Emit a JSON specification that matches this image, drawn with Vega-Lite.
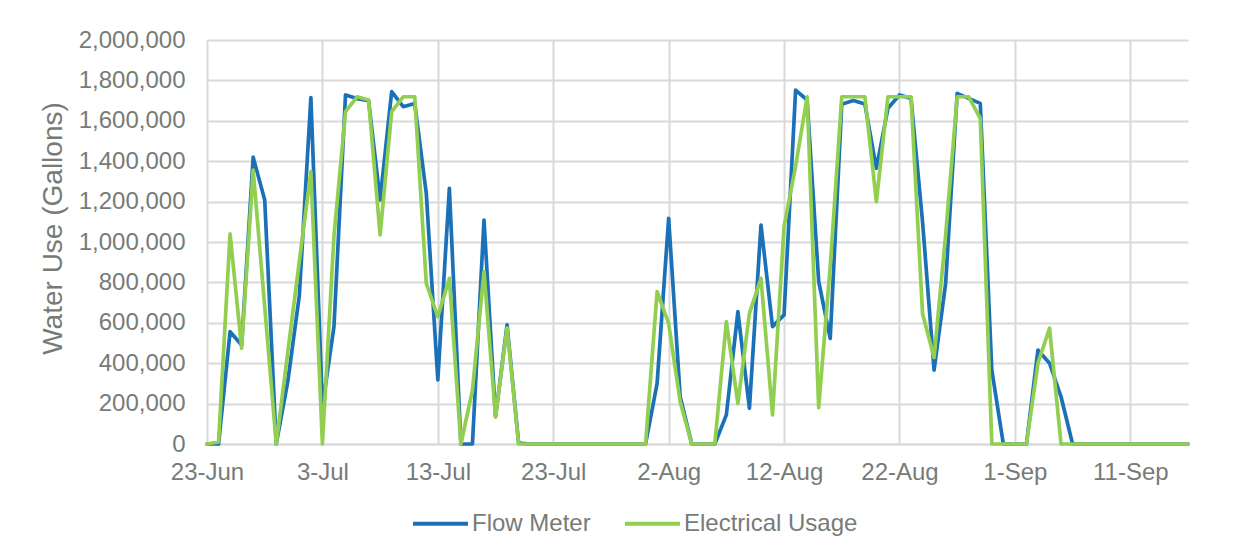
{
  "$schema": "https://vega.github.io/schema/vega-lite/v6.json",
  "width": 981,
  "height": 404,
  "autosize": {"type": "none"},
  "padding": {"left": 207, "top": 40, "right": 62, "bottom": 111},
  "background": "white",
  "data": {
    "values": [
      {"date": "2019-06-23", "Flow Meter": 0, "Electrical Usage": 0},
      {"date": "2019-06-24", "Flow Meter": 0, "Electrical Usage": 10000},
      {"date": "2019-06-25", "Flow Meter": 556000, "Electrical Usage": 1040000},
      {"date": "2019-06-26", "Flow Meter": 490000, "Electrical Usage": 474000},
      {"date": "2019-06-27", "Flow Meter": 1420000, "Electrical Usage": 1356000},
      {"date": "2019-06-28", "Flow Meter": 1208000, "Electrical Usage": 680000},
      {"date": "2019-06-29", "Flow Meter": 0, "Electrical Usage": 0},
      {"date": "2019-06-30", "Flow Meter": 310000, "Electrical Usage": 455000},
      {"date": "2019-07-01", "Flow Meter": 735000, "Electrical Usage": 905000},
      {"date": "2019-07-02", "Flow Meter": 1715000, "Electrical Usage": 1348000},
      {"date": "2019-07-03", "Flow Meter": 185000, "Electrical Usage": 0},
      {"date": "2019-07-04", "Flow Meter": 580000, "Electrical Usage": 1028000},
      {"date": "2019-07-05", "Flow Meter": 1728000, "Electrical Usage": 1645000},
      {"date": "2019-07-06", "Flow Meter": 1710000, "Electrical Usage": 1719000},
      {"date": "2019-07-07", "Flow Meter": 1700000, "Electrical Usage": 1703000},
      {"date": "2019-07-08", "Flow Meter": 1208000, "Electrical Usage": 1035000},
      {"date": "2019-07-09", "Flow Meter": 1744000, "Electrical Usage": 1645000},
      {"date": "2019-07-10", "Flow Meter": 1670000, "Electrical Usage": 1719000},
      {"date": "2019-07-11", "Flow Meter": 1686000, "Electrical Usage": 1719000},
      {"date": "2019-07-12", "Flow Meter": 1241000, "Electrical Usage": 795000},
      {"date": "2019-07-13", "Flow Meter": 317000, "Electrical Usage": 630000},
      {"date": "2019-07-14", "Flow Meter": 1266000, "Electrical Usage": 820000},
      {"date": "2019-07-15", "Flow Meter": 0, "Electrical Usage": 0},
      {"date": "2019-07-16", "Flow Meter": 0, "Electrical Usage": 267000},
      {"date": "2019-07-17", "Flow Meter": 1109000, "Electrical Usage": 853000},
      {"date": "2019-07-18", "Flow Meter": 135000, "Electrical Usage": 135000},
      {"date": "2019-07-19", "Flow Meter": 590000, "Electrical Usage": 575000},
      {"date": "2019-07-20", "Flow Meter": 5000, "Electrical Usage": 0},
      {"date": "2019-07-21", "Flow Meter": 0, "Electrical Usage": 0},
      {"date": "2019-07-22", "Flow Meter": 0, "Electrical Usage": 0},
      {"date": "2019-07-23", "Flow Meter": 0, "Electrical Usage": 0},
      {"date": "2019-07-24", "Flow Meter": 0, "Electrical Usage": 0},
      {"date": "2019-07-25", "Flow Meter": 0, "Electrical Usage": 0},
      {"date": "2019-07-26", "Flow Meter": 0, "Electrical Usage": 0},
      {"date": "2019-07-27", "Flow Meter": 0, "Electrical Usage": 0},
      {"date": "2019-07-28", "Flow Meter": 0, "Electrical Usage": 0},
      {"date": "2019-07-29", "Flow Meter": 0, "Electrical Usage": 0},
      {"date": "2019-07-30", "Flow Meter": 0, "Electrical Usage": 0},
      {"date": "2019-07-31", "Flow Meter": 0, "Electrical Usage": 0},
      {"date": "2019-08-01", "Flow Meter": 300000, "Electrical Usage": 754000},
      {"date": "2019-08-02", "Flow Meter": 1117000, "Electrical Usage": 597000},
      {"date": "2019-08-03", "Flow Meter": 234000, "Electrical Usage": 209000},
      {"date": "2019-08-04", "Flow Meter": 0, "Electrical Usage": 0},
      {"date": "2019-08-05", "Flow Meter": 0, "Electrical Usage": 0},
      {"date": "2019-08-06", "Flow Meter": 0, "Electrical Usage": 0},
      {"date": "2019-08-07", "Flow Meter": 144000, "Electrical Usage": 606000},
      {"date": "2019-08-08", "Flow Meter": 655000, "Electrical Usage": 201000},
      {"date": "2019-08-09", "Flow Meter": 177000, "Electrical Usage": 647000},
      {"date": "2019-08-10", "Flow Meter": 1084000, "Electrical Usage": 820000},
      {"date": "2019-08-11", "Flow Meter": 581000, "Electrical Usage": 144000},
      {"date": "2019-08-12", "Flow Meter": 639000, "Electrical Usage": 1076000},
      {"date": "2019-08-13", "Flow Meter": 1752000, "Electrical Usage": 1375000},
      {"date": "2019-08-14", "Flow Meter": 1703000, "Electrical Usage": 1719000},
      {"date": "2019-08-15", "Flow Meter": 805000, "Electrical Usage": 180000},
      {"date": "2019-08-16", "Flow Meter": 523000, "Electrical Usage": 880000},
      {"date": "2019-08-17", "Flow Meter": 1682000, "Electrical Usage": 1719000},
      {"date": "2019-08-18", "Flow Meter": 1700000, "Electrical Usage": 1719000},
      {"date": "2019-08-19", "Flow Meter": 1683000, "Electrical Usage": 1719000},
      {"date": "2019-08-20", "Flow Meter": 1365000, "Electrical Usage": 1200000},
      {"date": "2019-08-21", "Flow Meter": 1662000, "Electrical Usage": 1719000},
      {"date": "2019-08-22", "Flow Meter": 1728000, "Electrical Usage": 1719000},
      {"date": "2019-08-23", "Flow Meter": 1711000, "Electrical Usage": 1719000},
      {"date": "2019-08-24", "Flow Meter": 1100000, "Electrical Usage": 645000},
      {"date": "2019-08-25", "Flow Meter": 366000, "Electrical Usage": 428000},
      {"date": "2019-08-26", "Flow Meter": 795000, "Electrical Usage": 1035000},
      {"date": "2019-08-27", "Flow Meter": 1736000, "Electrical Usage": 1719000},
      {"date": "2019-08-28", "Flow Meter": 1711000, "Electrical Usage": 1719000},
      {"date": "2019-08-29", "Flow Meter": 1686000, "Electrical Usage": 1612000},
      {"date": "2019-08-30", "Flow Meter": 366000, "Electrical Usage": 0},
      {"date": "2019-08-31", "Flow Meter": 0, "Electrical Usage": 0},
      {"date": "2019-09-01", "Flow Meter": 0, "Electrical Usage": 0},
      {"date": "2019-09-02", "Flow Meter": 0, "Electrical Usage": 0},
      {"date": "2019-09-03", "Flow Meter": 465000, "Electrical Usage": 400000},
      {"date": "2019-09-04", "Flow Meter": 400000, "Electrical Usage": 573000},
      {"date": "2019-09-05", "Flow Meter": 234000, "Electrical Usage": 0},
      {"date": "2019-09-06", "Flow Meter": 0, "Electrical Usage": 0},
      {"date": "2019-09-07", "Flow Meter": 0, "Electrical Usage": 0},
      {"date": "2019-09-08", "Flow Meter": 0, "Electrical Usage": 0},
      {"date": "2019-09-09", "Flow Meter": 0, "Electrical Usage": 0},
      {"date": "2019-09-10", "Flow Meter": 0, "Electrical Usage": 0},
      {"date": "2019-09-11", "Flow Meter": 0, "Electrical Usage": 0},
      {"date": "2019-09-12", "Flow Meter": 0, "Electrical Usage": 0},
      {"date": "2019-09-13", "Flow Meter": 0, "Electrical Usage": 0},
      {"date": "2019-09-14", "Flow Meter": 0, "Electrical Usage": 0},
      {"date": "2019-09-15", "Flow Meter": 0, "Electrical Usage": 0},
      {"date": "2019-09-16", "Flow Meter": 0, "Electrical Usage": 0}
    ]
  },
  "transform": [
    {"fold": ["Flow Meter", "Electrical Usage"], "as": ["series", "value"]}
  ],
  "encoding": {
    "x": {
      "field": "date",
      "type": "temporal",
      "scale": {
        "type": "utc",
        "domain": [
          {"year": 2019, "month": "jun", "date": 23, "utc": true},
          {"year": 2019, "month": "sep", "date": 16, "utc": true}
        ],
        "nice": false
      },
      "axis": {
        "title": null,
        "format": "%-d-%b",
        "values": [
          {"year": 2019, "month": "jun", "date": 23, "utc": true},
          {"year": 2019, "month": "jul", "date": 3, "utc": true},
          {"year": 2019, "month": "jul", "date": 13, "utc": true},
          {"year": 2019, "month": "jul", "date": 23, "utc": true},
          {"year": 2019, "month": "aug", "date": 2, "utc": true},
          {"year": 2019, "month": "aug", "date": 12, "utc": true},
          {"year": 2019, "month": "aug", "date": 22, "utc": true},
          {"year": 2019, "month": "sep", "date": 1, "utc": true},
          {"year": 2019, "month": "sep", "date": 11, "utc": true}
        ],
        "labelPadding": 16,
        "domain": true,
        "domainColor": "#d9d9d9",
        "domainWidth": 2,
        "labelFlush": false,
        "labelOverlap": false
      }
    },
    "y": {
      "field": "value",
      "type": "quantitative",
      "scale": {"domain": [0, 2000000], "nice": false},
      "axis": {
        "title": "Water Use (Gallons)",
        "format": ",d",
        "values": [0, 200000, 400000, 600000, 800000, 1000000, 1200000, 1400000, 1600000, 1800000, 2000000],
        "labelPadding": 22,
        "domain": false,
        "titleFontSize": 28,
        "titlePadding": 11,
        "titleY": 188
      }
    },
    "color": {
      "field": "series",
      "type": "nominal",
      "scale": {"domain": ["Flow Meter", "Electrical Usage"], "range": ["#1a71b8", "#92cf50"]},
      "legend": {
        "title": null,
        "orient": "none",
        "direction": "horizontal",
        "legendX": 204,
        "legendY": 454,
        "symbolType": "stroke",
        "symbolSize": 3025,
        "symbolStrokeWidth": 4,
        "labelFontSize": 24,
        "labelLimit": 400,
        "labelOffset": 2,
        "columnPadding": 26,
        "padding": 0
      }
    }
  },
  "layer": [
    {
      "transform": [{"filter": "datum.series === 'Flow Meter'"}],
      "mark": {"type": "line", "strokeWidth": 3.7, "strokeJoin": "round", "strokeCap": "round"}
    },
    {
      "transform": [{"filter": "datum.series === 'Electrical Usage'"}],
      "mark": {"type": "line", "strokeWidth": 3.7, "strokeJoin": "round", "strokeCap": "round"}
    }
  ],
  "config": {
    "font": "Liberation Sans",
    "view": {"stroke": null},
    "axis": {
      "labelFont": "Liberation Sans",
      "titleFont": "Liberation Sans",
      "labelFontSize": 24,
      "labelColor": "#777b77",
      "titleColor": "#777b77",
      "titleFontWeight": "normal",
      "gridColor": "#d9d9d9",
      "gridWidth": 2,
      "ticks": false
    },
    "legend": {
      "labelFont": "Liberation Sans",
      "labelColor": "#777b77"
    }
  }
}
